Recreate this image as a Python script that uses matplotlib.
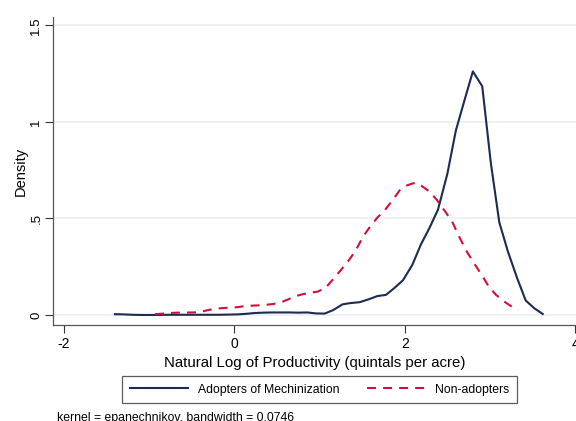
import matplotlib
matplotlib.use('Agg')
import matplotlib.pyplot as plt

plt.rcParams['font.family'] = ['Liberation Sans', 'DejaVu Sans']

# kernel density estimates, log productivity (quintals per acre)
adopt_x = [-1.40, -1.30, -1.19, -1.09, -0.99, -0.89, -0.79, -0.68, -0.58, -0.48,
           -0.38, -0.27, -0.17, -0.07, 0.04, 0.14, 0.24, 0.34, 0.45, 0.55,
           0.65, 0.75, 0.86, 0.96, 1.06, 1.16, 1.27, 1.37, 1.47, 1.57,
           1.68, 1.78, 1.88, 1.98, 2.09, 2.19, 2.29, 2.39, 2.50, 2.60,
           2.70, 2.80, 2.91, 3.01, 3.11, 3.21, 3.32, 3.42, 3.52, 3.62]
adopt_y = [0.004, 0.003, 0.001, 0.000, 0.000, 0.000, 0.001, 0.001, 0.001, 0.001,
           0.001, 0.001, 0.001, 0.002, 0.003, 0.006, 0.010, 0.012, 0.013, 0.013,
           0.013, 0.012, 0.013, 0.008, 0.007, 0.025, 0.055, 0.062, 0.066, 0.080,
           0.098, 0.104, 0.140, 0.180, 0.260, 0.365, 0.450, 0.545, 0.730, 0.955,
           1.110, 1.262, 1.185, 0.790, 0.480, 0.330, 0.190, 0.075, 0.035, 0.005]

nonadopt_x = [-0.93, -0.84, -0.76, -0.67, -0.58, -0.50, -0.41, -0.32, -0.23, -0.15,
              -0.06, 0.03, 0.11, 0.20, 0.29, 0.38, 0.46, 0.55, 0.64, 0.72,
              0.81, 0.90, 0.98, 1.07, 1.16, 1.25, 1.33, 1.42, 1.51, 1.59,
              1.68, 1.77, 1.85, 1.94, 2.03, 2.12, 2.20, 2.29, 2.38, 2.46,
              2.55, 2.64, 2.72, 2.81, 2.90, 2.99, 3.07, 3.16, 3.25, 3.33]
nonadopt_y = [0.004, 0.007, 0.010, 0.012, 0.012, 0.013, 0.014, 0.024, 0.032, 0.035,
              0.038, 0.040, 0.045, 0.048, 0.050, 0.053, 0.057, 0.066, 0.082, 0.098,
              0.108, 0.116, 0.121, 0.140, 0.185, 0.232, 0.275, 0.330, 0.405, 0.455,
              0.505, 0.545, 0.590, 0.645, 0.672, 0.685, 0.668, 0.640, 0.595, 0.545,
              0.490, 0.405, 0.335, 0.270, 0.210, 0.145, 0.105, 0.072, 0.045, 0.026]

x_ticks = [-2, 0, 2, 4]
y_ticks = [0, 0.5, 1, 1.5]
y_tick_labels = ['0', '.5', '1', '1.5']

navy = '#1c2b4f'
red = '#d20f3c'

fig = plt.figure(figsize=(5.76, 4.21), dpi=100)
ax = fig.add_axes([52.7 / 576, 96 / 421, 523.3 / 576, 308 / 421])

for y in y_ticks:
    ax.axhline(y, color='#e6f0f2', lw=1.2, zorder=0)

ax.plot(adopt_x, adopt_y, color=navy, lw=1.5, label='Adopters of Mechinization')
ax.plot(nonadopt_x, nonadopt_y, color=red, lw=1.5, dashes=(4.3, 3.4),
        label='Non-adopters')

ax.set_xlim(-2.13, 4.01)
ax.set_ylim(-0.052, 1.544)
ax.set_xticks(x_ticks)
ax.set_xticklabels([str(t) for t in x_ticks])
ax.set_yticks(y_ticks)
ax.set_yticklabels(y_tick_labels, rotation=90, va='center')
ax.tick_params(direction='out', length=5.5, width=0.8, colors='#333333',
               labelcolor='black', labelsize=10)
ax.tick_params(axis='y', pad=2, labelsize=9.5)
for side in ['top', 'right']:
    ax.spines[side].set_visible(False)
for side in ['left', 'bottom']:
    ax.spines[side].set_color('#555555')
    ax.spines[side].set_linewidth(0.9)

ax.set_xlabel('Natural Log of Productivity (quintals per acre)', fontsize=10.85, labelpad=3)
ax.set_ylabel('Density', fontsize=10.5, labelpad=2)

leg = fig.legend(loc='center', bbox_to_anchor=(319.5 / 576, 1 - 389.5 / 421),
                 ncol=2, frameon=True, fancybox=False, fontsize=8.8,
                 handlelength=4.8, handletextpad=0.8, columnspacing=2.2,
                 borderpad=0.6)
leg.get_frame().set_edgecolor('#333333')
leg.get_frame().set_linewidth(0.9)

fig.text(56.7 / 576, 1 - 412.5 / 421, 'kernel = epanechnikov, bandwidth = 0.0746',
         fontsize=8.8, va='top', ha='left')

fig.savefig('out.png', dpi=100)
